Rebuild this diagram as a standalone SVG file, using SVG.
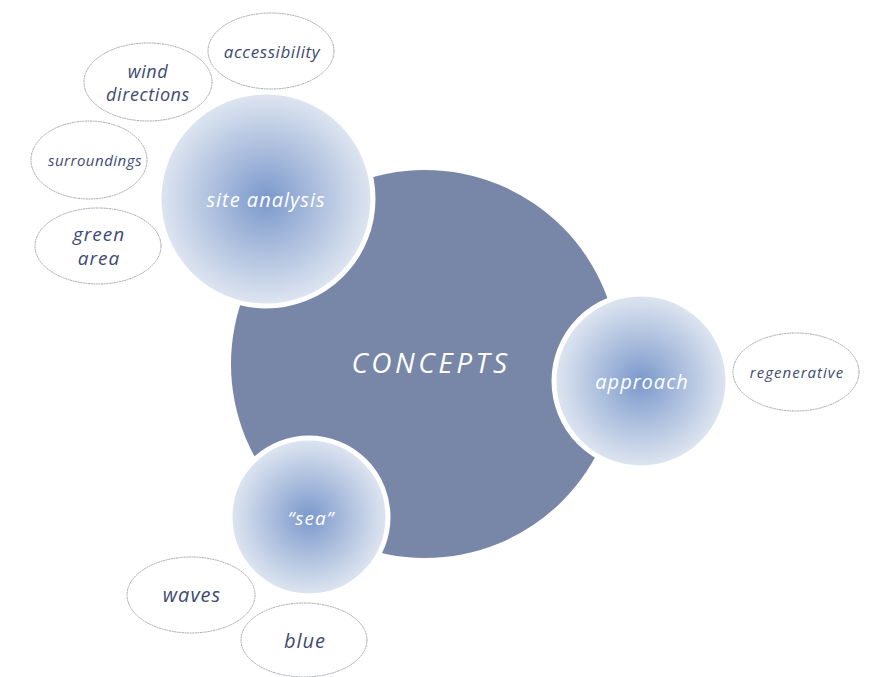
<svg xmlns="http://www.w3.org/2000/svg" width="875" height="677" viewBox="0 0 875 677">
<defs>
<radialGradient id="g" cx="50%" cy="50%" r="50%">
<stop offset="0" stop-color="#7b98cc"/>
<stop offset="0.55" stop-color="#b3c4e0"/>
<stop offset="1" stop-color="#dfe6f1"/>
</radialGradient>
</defs>
<style>
.leaf{fill:#fff;stroke:#a6a9b3;stroke-width:1;stroke-dasharray:2 0.6}
.sub{fill:url(#g);stroke:#fff;stroke-width:5}
.t{font-family:"Open Sans","Liberation Sans",sans-serif;font-style:italic;text-anchor:middle;dominant-baseline:central;letter-spacing:1px}
.lt{fill:#3e4a73}
.wt{fill:#fff}
</style>
<rect width="875" height="677" fill="#fff"/>
<g id="connectors"></g>
<g id="concepts">
<circle cx="425" cy="364" r="194" fill="#7886a8"/>
<text class="t wt" x="431" y="362" font-size="28" style="letter-spacing:3.5px">CONCEPTS</text>
</g>
<g id="site-analysis">
<circle class="sub" cx="266" cy="199" r="107"/>
<text class="t wt" x="266" y="199" font-size="20">site analysis</text>
</g>
<g id="approach">
<circle class="sub" cx="641" cy="381" r="87"/>
<text class="t wt" x="642" y="381" font-size="20">approach</text>
</g>
<g id="sea">
<circle class="sub" cx="309" cy="517" r="79"/>
<text class="t wt" x="311" y="518" font-size="19">“sea”</text>
</g>
<g id="accessibility">
<ellipse class="leaf" cx="271" cy="51" rx="63" ry="38"/>
<text class="t lt" x="272" y="51" font-size="17" style="letter-spacing:0.6px">accessibility</text>
</g>
<g id="wind-directions">
<ellipse class="leaf" cx="148" cy="82" rx="64" ry="39"/>
<text class="t lt" x="148" y="71" font-size="18" style="letter-spacing:0.6px">wind</text>
<text class="t lt" x="148" y="94" font-size="18" style="letter-spacing:0.6px">directions</text>
</g>
<g id="surroundings">
<ellipse class="leaf" cx="89" cy="160" rx="58" ry="39"/>
<text class="t lt" x="95" y="160" font-size="15" style="letter-spacing:0.5px">surroundings</text>
</g>
<g id="green-area">
<ellipse class="leaf" cx="98" cy="246" rx="63" ry="38"/>
<text class="t lt" x="99" y="234" font-size="19">green</text>
<text class="t lt" x="99" y="258" font-size="19">area</text>
</g>
<g id="regenerative">
<ellipse class="leaf" cx="796" cy="372" rx="63" ry="39"/>
<text class="t lt" x="797" y="372" font-size="15">regenerative</text>
</g>
<g id="waves">
<ellipse class="leaf" cx="191" cy="595" rx="64" ry="38"/>
<text class="t lt" x="192" y="594" font-size="20">waves</text>
</g>
<g id="blue">
<ellipse class="leaf" cx="304" cy="640" rx="63" ry="37"/>
<text class="t lt" x="305" y="640" font-size="20">blue</text>
</g>
</svg>
